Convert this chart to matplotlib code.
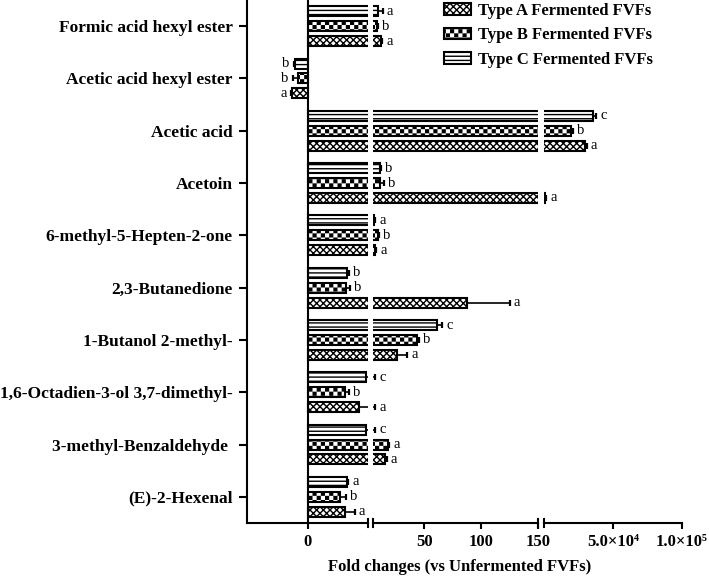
import warnings
import numpy as np
import matplotlib
matplotlib.use('Agg')
import matplotlib.pyplot as plt
import matplotlib.hatch as mhatch
from matplotlib.path import Path

warnings.filterwarnings('ignore')

compounds = ['Formic acid hexyl ester', 'Acetic acid hexyl ester', 'Acetic acid',
             'Acetoin', '6-methyl-5-Hepten-2-one', '2,3-Butanedione',
             '1-Butanol 2-methyl-', '1,6-Octadien-3-ol 3,7-dimethyl-',
             '3-methyl-Benzaldehyde ', '(E)-2-Hexenal']

# fold changes
type_a = [12.0, -1.3, 29500, 1200, 6.5, 88, 26, 4.25, 15.5, 3.1]
type_b = [8.5, -0.8, 20000, 11, 9.0, 3.2, 44, 3.1, 18, 2.65]
type_c = [9.4, -1.05, 35800, 11, 5.5, 3.3, 61, 4.85, 4.85, 3.25]
err_a = [1.0, 0.1, 1500, 400, 1.0, 37, 9, 2.5, 1.5, 0.8]
err_b = [0.5, 0.4, 1000, 3.5, 1.5, 0.3, 1.5, 0.35, 1.5, 0.55]
err_c = [4.0, 0.1, 2000, 1.0, 1.3, 0.1, 5, 1.9, 1.9, 0.1]
let_a = ['a', 'a', 'a', 'a', 'a', 'a', 'a', 'a', 'a', 'a']
let_b = ['b', 'b', 'b', 'b', 'b', 'b', 'b', 'b', 'a', 'b']
let_c = ['a', 'b', 'c', 'b', 'a', 'b', 'c', 'c', 'c', 'a']
legend_labels = ['Type A Fermented FVFs', 'Type B Fermented FVFs', 'Type C Fermented FVFs']

x_ticks_3 = [5e4, 1e5]
x_ticklabels_3 = ['5.0×10⁴', '1.0×10⁵']


class CheckerHatch(mhatch.HatchPatternBase):
    # checkerboard hatch, used with 'c' in the hatch string
    def __init__(self, hatch, density):
        self.num_cells = hatch.count('c') * density
        self.num_vertices = (self.num_cells ** 2 // 2) * 5

    def set_vertices_and_codes(self, vertices, codes):
        n = self.num_cells
        s = 1.0 / n
        shrink = plt.rcParams['hatch.linewidth'] / 144.0
        k = 0
        for i in range(n):
            for j in range(n):
                if (i + j) % 2:
                    continue
                x0, y0 = i * s + shrink, j * s + shrink
                x1, y1 = (i + 1) * s - shrink, (j + 1) * s - shrink
                vertices[k:k + 5] = [(x0, y0), (x1, y0), (x1, y1), (x0, y1), (x0, y0)]
                codes[k:k + 5] = [Path.MOVETO, Path.LINETO, Path.LINETO,
                                  Path.LINETO, Path.CLOSEPOLY]
                k += 5


mhatch._hatch_types.append(CheckerHatch)

plt.rcParams['font.family'] = ['Liberation Serif', 'DejaVu Serif']
plt.rcParams['font.weight'] = 'bold'

fig = plt.figure(figsize=(7.09, 5.78), dpi=100)
ax1 = fig.add_axes([247 / 709, 55 / 578, 121 / 709, 523 / 578])
ax2 = fig.add_axes([373 / 709, 55 / 578, 165 / 709, 523 / 578], sharey=ax1)
ax3 = fig.add_axes([544 / 709, 55 / 578, 138 / 709, 523 / 578], sharey=ax1)
axes = [ax1, ax2, ax3]
ax1.set_xlim(-5, 5)
ax2.set_xlim(5, 150)
ax3.set_xlim(150, 1e5)
ax1.set_ylim(9.5, -0.5)

y = np.arange(len(compounds))
off = 0.285
bar_h = 0.19
series = [
    (type_a, err_a, let_a, 'xxxxx', off),
    (type_b, err_b, let_b, 'cccc', 0.0),
    (type_c, err_c, let_c, '----', -off),
]

handles = []
for ax in axes:
    lo, hi = ax.get_xlim()
    for vals, errs, lets, hatch, dy in series:
        vals = np.array(vals, dtype=float)
        errs = np.array(errs, dtype=float)
        ends = np.where(vals < 0, vals - errs, vals + errs)
        if ax is ax1:
            start = np.zeros_like(vals)
            show = np.ones(len(vals), dtype=bool)
        else:
            # bars continue from the previous segment: start well left of the edge
            start = np.full_like(vals, lo - 0.2 * (hi - lo))
            show = vals > lo
        bars = ax.barh((y + dy)[show], (vals - start)[show], left=start[show], height=bar_h,
                       color='white', edgecolor='black', linewidth=1.5, hatch=hatch, zorder=2)
        if ax is ax1:
            handles.append(bars)
        # one-sided error bars, pointing away from zero
        cross = (np.maximum(vals, ends) > lo) & (np.minimum(vals, ends) < hi)
        ax.hlines((y + dy)[cross], vals[cross], ends[cross], color='black',
                  linewidth=1.2, zorder=3)
        inside = (ends >= lo) & (ends <= hi)
        ax.plot(ends[inside], (y + dy)[inside], linestyle='none', marker='|',
                markersize=5, markeredgewidth=1.6, color='black', zorder=3)

# significance letters, put on the segment where the error bar ends
for vals, errs, lets, hatch, dy in series:
    for i in range(len(compounds)):
        if vals[i] < 0:
            end = vals[i] - errs[i]
            ax1.annotate(lets[i], (end, y[i] + dy), xytext=(-3, 0), textcoords='offset points',
                         ha='right', va='center', fontsize=10.5, fontweight='normal')
            continue
        end = vals[i] + errs[i]
        ax = ax1 if end <= 5 else (ax2 if end <= 150 else ax3)
        ax.annotate(lets[i], (end, y[i] + dy), xytext=(3, 0), textcoords='offset points',
                    ha='left', va='center', fontsize=10.5, fontweight='normal',
                    annotation_clip=False)

ax1.axvline(0, color='black', linewidth=1.5, zorder=4)

for ax in axes:
    for side in ['top', 'right', 'left']:
        ax.spines[side].set_visible(False)
    ax.spines['bottom'].set_linewidth(1.5)
    ax.tick_params(axis='x', length=4, width=1.5, pad=4, labelsize=12)
ax1.spines['left'].set_visible(True)
ax1.spines['left'].set_linewidth(1.5)

ax1.set_yticks(y)
ax1.set_yticklabels(compounds)
ax1.tick_params(axis='y', length=5.5, width=1.5, pad=5, labelsize=12.5)
for ax in [ax2, ax3]:
    ax.tick_params(axis='y', left=False, labelleft=False)

ax1.set_xticks([0])
ax2.set_xticks([50, 100, 150])
ax3.set_xticks(x_ticks_3)
ax3.set_xticklabels(x_ticklabels_3)

# break marks on the x axis
d = 0.008
for ax, xs in [(ax1, [1]), (ax2, [0, 1]), (ax3, [0])]:
    for xb in xs:
        ax.plot([xb, xb], [-d, d], transform=ax.transAxes, color='black',
                linewidth=1.5, clip_on=False)

fig.legend(handles, legend_labels, loc='upper left', bbox_to_anchor=(444 / 709, 1 - 3 / 578),
           frameon=False, fontsize=12, borderpad=0, borderaxespad=0, labelspacing=0.5,
           handlelength=1.6, handleheight=0.7, handletextpad=0.45)

fig.text(460 / 709, 1 - 567 / 578, 'Fold changes (vs Unfermented FVFs)', ha='center',
         va='center', fontsize=12)

fig.savefig('out.png', dpi=100)
